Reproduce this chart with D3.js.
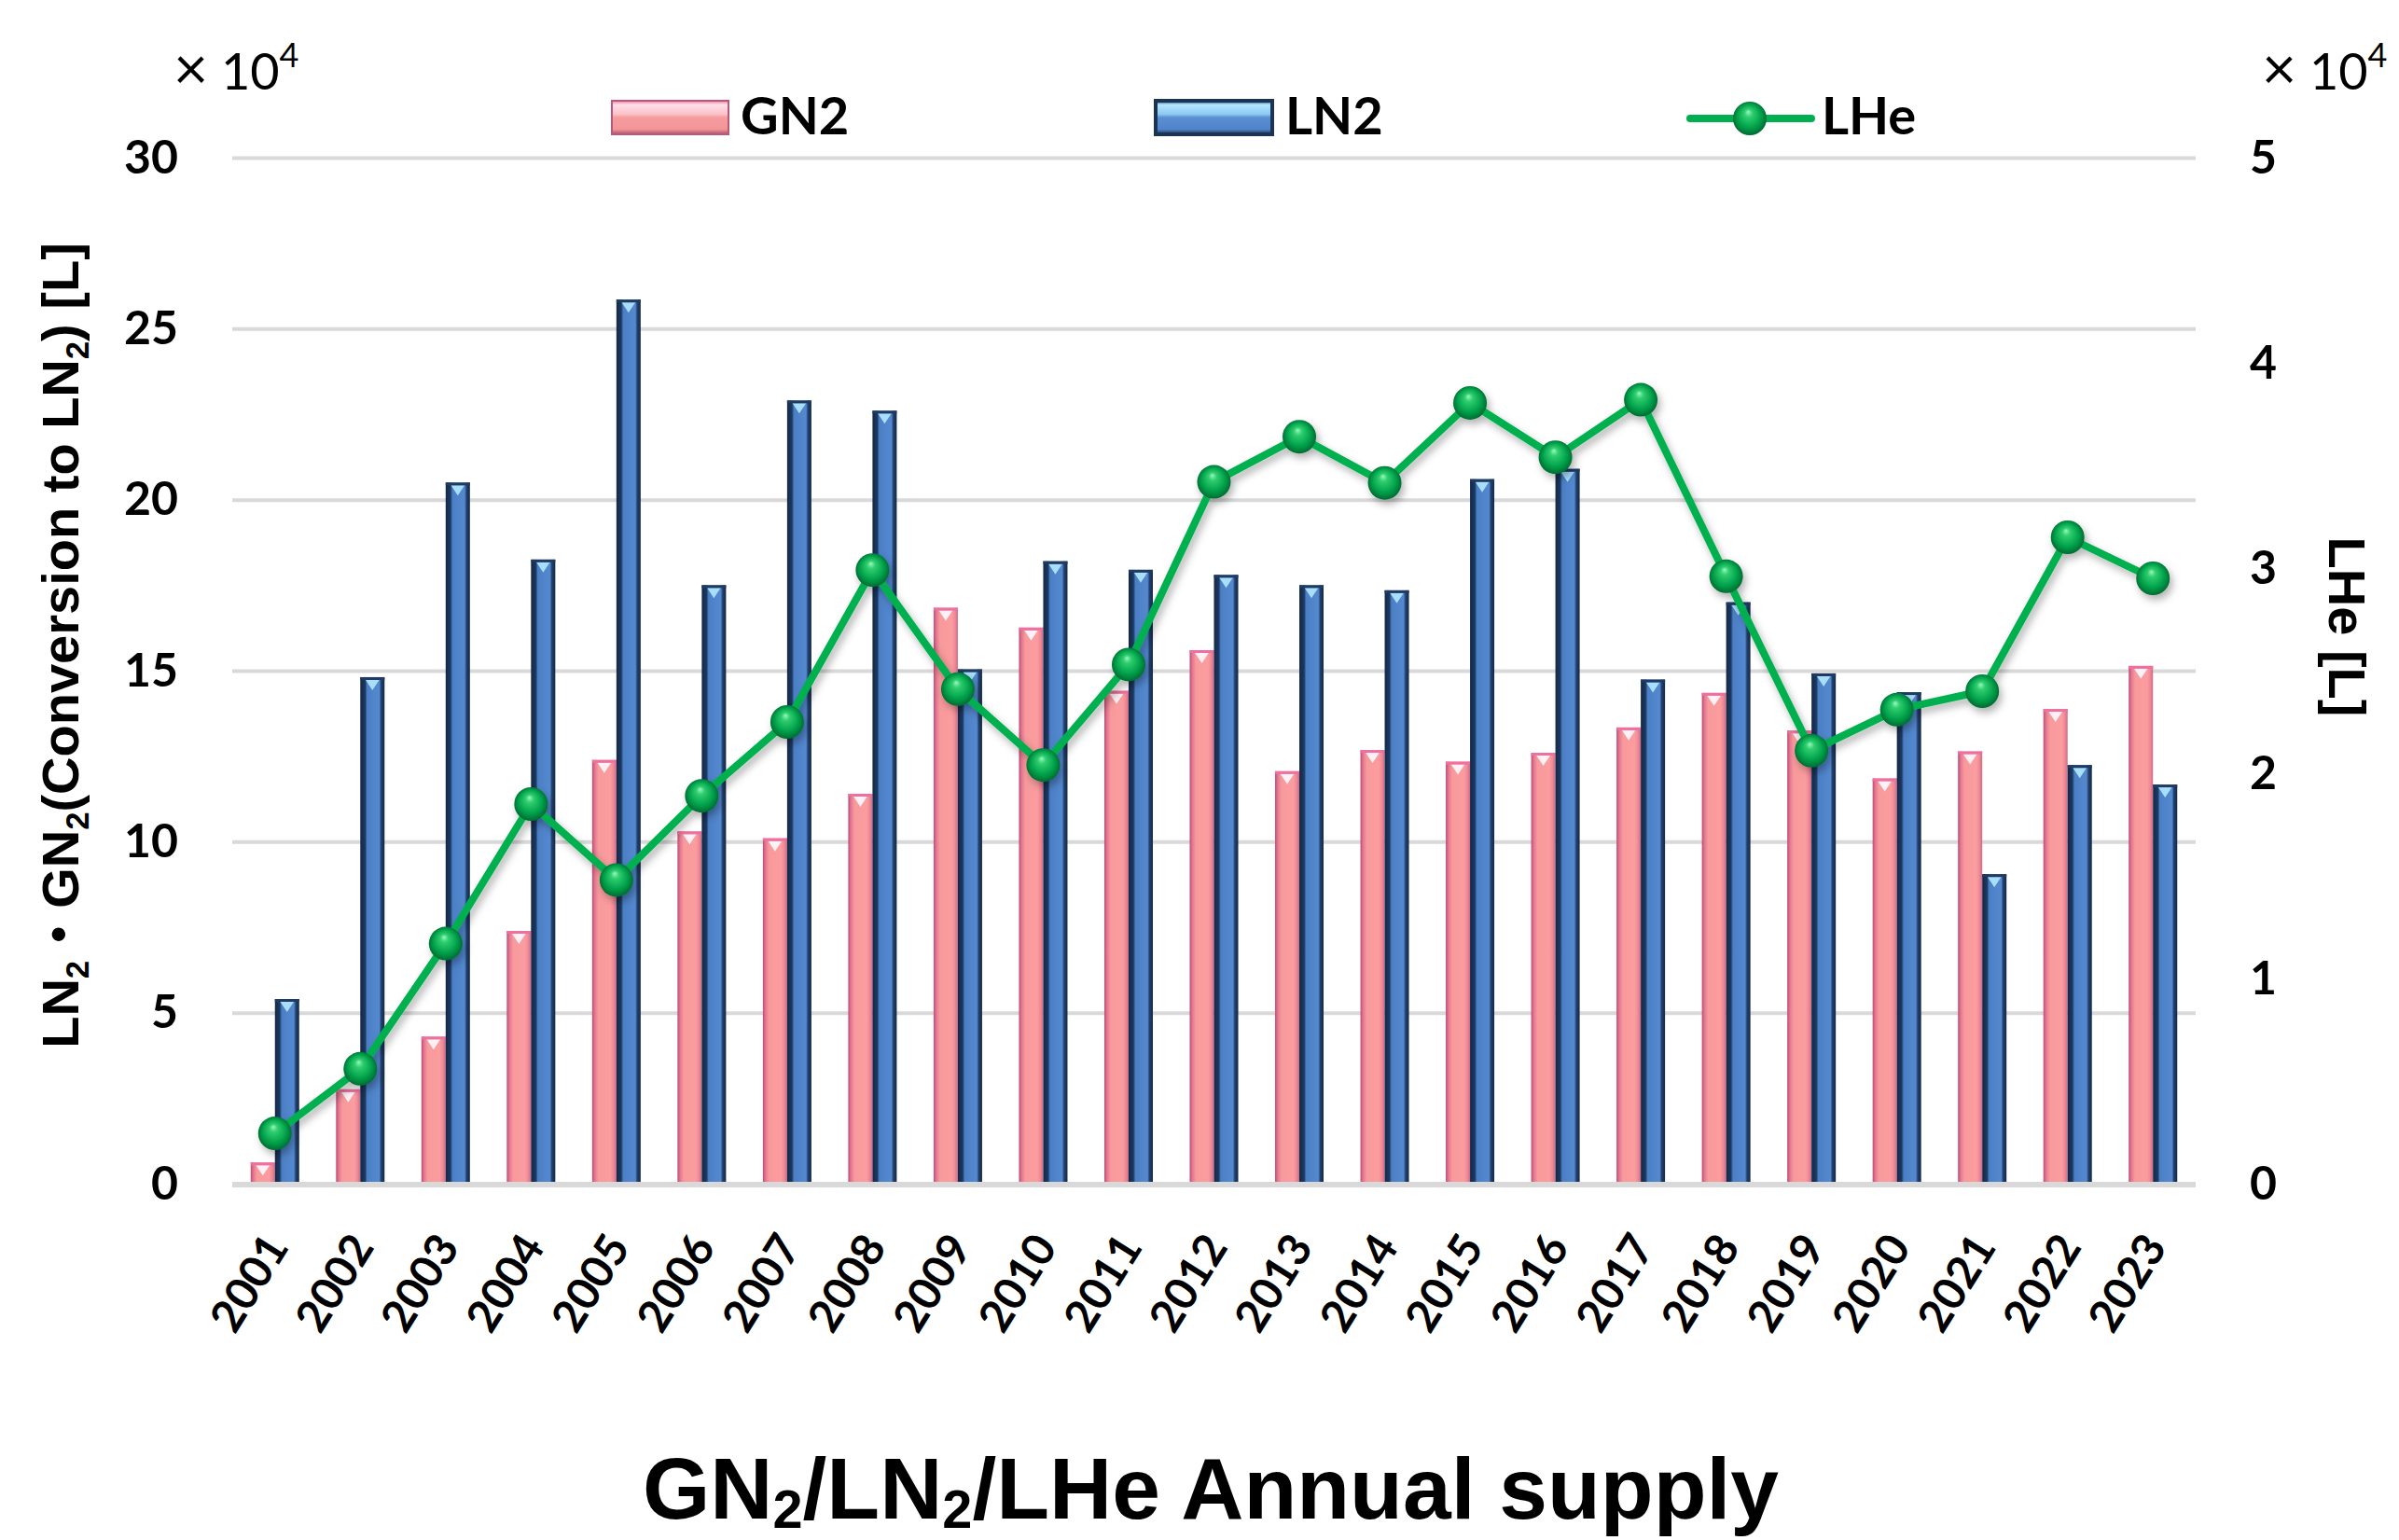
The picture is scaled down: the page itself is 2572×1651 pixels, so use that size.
<!DOCTYPE html>
<html>
<head>
<meta charset="utf-8">
<script src="https://cdn.jsdelivr.net/npm/d3@7"></script>
<style>
  body { margin: 0; background: #fff; }
</style>
</head>
<body>
<div id="chart"></div>
<script>

// values, in units of 10^4 L
var years = ["2001", "2002", "2003", "2004", "2005", "2006", "2007", "2008", "2009", "2010", "2011", "2012",
             "2013", "2014", "2015", "2016", "2017", "2018", "2019", "2020", "2021", "2022", "2023"];
var gn2 = [0.62, 2.76, 4.3, 7.39, 12.39, 10.3, 10.1, 11.4, 16.84, 16.26, 14.41, 15.6,
           12.06, 12.68, 12.34, 12.6, 13.34, 14.35, 13.25, 11.85, 12.64, 13.88, 15.14];
var ln2 = [5.4, 14.81, 20.5, 18.25, 25.85, 17.5, 22.9, 22.6, 15.04, 18.2, 17.95, 17.8,
           17.5, 17.35, 20.6, 20.9, 14.74, 17.0, 14.92, 14.37, 9.05, 12.24, 11.67];
var lhe = [0.245, 0.56, 1.17, 1.85, 1.48, 1.89, 2.25, 2.99, 2.41, 2.04, 2.53, 3.42,
           3.64, 3.415, 3.805, 3.54, 3.82, 2.96, 2.11, 2.31, 2.40, 3.15, 2.95];
var leftTicks = [0, 5, 10, 15, 20, 25, 30];
var rightTicks = [0, 1, 2, 3, 4, 5];
var seriesNames = ["GN2", "LN2", "LHe"];

var svgWidth = 2572;
var svgHeight = 1651;

var margin = {
  top: 169,
  bottom: 382,
  right: 218,
  left: 249
};

var width = svgWidth - margin.left - margin.right;
var height = svgHeight - margin.top - margin.bottom;

var svg = d3.select("#chart")
  .append("svg")
  .attr("width", svgWidth)
  .attr("height", svgHeight)
  .style("font-family", "Lato, 'Liberation Sans', sans-serif");

// gradients for the bevelled bars and the spheres
var defs = svg.append("defs");

function hGrad(id, stops, vertical) {
  var g = defs.append("linearGradient").attr("id", id)
    .attr("x1", 0).attr("y1", 0)
    .attr("x2", vertical ? 0 : 1).attr("y2", vertical ? 1 : 0);
  stops.forEach(function(s) {
    g.append("stop").attr("offset", s[0]).attr("stop-color", s[1]);
  });
}
hGrad("pinkBar", [[0, "#c24a75"], [0.12, "#e47a92"], [0.26, "#f8999c"], [0.75, "#fb9d9f"], [0.88, "#ee8a97"], [1, "#cf6a87"]]);
hGrad("blueBar", [[0, "#142847"], [0.2, "#1c3961"], [0.28, "#4b7fc5"], [0.78, "#5489d0"], [0.86, "#22416d"], [1, "#142847"]]);
hGrad("pinkLeg", [[0, "#f07aa6"], [0.12, "#fde0ea"], [0.4, "#fbc2c8"], [0.5, "#f59c9e"], [0.85, "#f39597"], [1, "#a8506c"]], true);
hGrad("blueLeg", [[0, "#2a4c78"], [0.12, "#b5e6ff"], [0.4, "#8ccaf2"], [0.5, "#5a8fd2"], [0.85, "#4f84c9"], [1, "#1b3355"]], true);

var rg = defs.append("radialGradient").attr("id", "ball")
  .attr("cx", "50%").attr("cy", "50%").attr("r", "55%")
  .attr("fx", "45%").attr("fy", "30%");
rg.append("stop").attr("offset", 0).attr("stop-color", "#9af7c0");
rg.append("stop").attr("offset", 0.22).attr("stop-color", "#2fce6e");
rg.append("stop").attr("offset", 0.65).attr("stop-color", "#00a04a");
rg.append("stop").attr("offset", 1).attr("stop-color", "#005f2c");

var shadow = defs.append("filter").attr("id", "shadow")
  .attr("x", "-10%").attr("y", "-10%").attr("width", "130%").attr("height", "130%");
shadow.append("feDropShadow")
  .attr("dx", 3).attr("dy", 5).attr("stdDeviation", 4)
  .attr("flood-color", "#000").attr("flood-opacity", 0.3);

var chartGroup = svg.append("g")
  .attr("transform", `translate(${margin.left}, ${margin.top})`);

// scales
var x = d3.scaleBand()
  .domain(years)
  .range([0, width]);

var x1 = d3.scaleBand()
  .domain(["GN2", "LN2"])
  .range([-26, 26]);

var yLeft = d3.scaleLinear()
  .domain([0, 30])
  .range([height, 0]);

var yRight = d3.scaleLinear()
  .domain([0, 5])
  .range([height, 0]);

function cx(i) { return x(years[i]) + x.bandwidth() / 2; }

// left axis with gridlines
var leftAxis = chartGroup.append("g")
  .attr("class", "y-axis")
  .call(d3.axisLeft(yLeft).tickValues(leftTicks).tickSize(-width).tickPadding(58));
leftAxis.select(".domain").remove();
leftAxis.selectAll("line").attr("stroke", "#d9d9d9").attr("stroke-width", 4);
leftAxis.selectAll("text")
  .attr("font-size", 50).attr("font-weight", "bold").attr("fill", "#000")
  .attr("font-family", "Lato, sans-serif");

// right axis
var rightAxis = chartGroup.append("g")
  .attr("class", "y-axis-right")
  .attr("transform", `translate(${width}, 0)`)
  .call(d3.axisRight(yRight).tickValues(rightTicks).tickFormat(d3.format("d")).tickSize(0).tickPadding(58));
rightAxis.select(".domain").remove();
rightAxis.selectAll("text")
  .attr("font-size", 50).attr("font-weight", "bold").attr("fill", "#000")
  .attr("font-family", "Lato, sans-serif");

// bars
var barData = [];
years.forEach(function(yr, i) {
  barData.push({ year: yr, key: "GN2", value: gn2[i], i: i });
  barData.push({ year: yr, key: "LN2", value: ln2[i], i: i });
});

var bw = x1.bandwidth();

var bars = chartGroup.append("g").attr("class", "bars")
  .selectAll("g")
  .data(barData)
  .enter().append("g");

bars.append("rect")
  .attr("x", function(d) { return cx(d.i) + x1(d.key); })
  .attr("y", function(d) { return yLeft(d.value); })
  .attr("width", bw)
  .attr("height", function(d) { return yLeft(0) - yLeft(d.value); })
  .attr("fill", function(d) { return d.key == "GN2" ? "url(#pinkBar)" : "url(#blueBar)"; });

// bevel top: little light triangle
bars.append("path")
  .attr("d", function(d) {
    var x0 = cx(d.i) + x1(d.key);
    var t = yLeft(d.value);
    return "M" + (x0 + bw * 0.22) + "," + (t + 3) + "L" + (x0 + bw * 0.78) + "," + (t + 3) +
      "L" + (x0 + bw / 2) + "," + (t + 14) + "Z";
  })
  .attr("fill", function(d) { return d.key == "GN2" ? "#fff1f5" : "#a9defb"; });

bars.append("rect")
  .attr("x", function(d) { return cx(d.i) + x1(d.key); })
  .attr("y", function(d) { return yLeft(d.value); })
  .attr("width", bw)
  .attr("height", 3)
  .attr("fill", function(d) { return d.key == "GN2" ? "#ee6fa0" : "#1f3b62"; });

// zero line over the bar feet
chartGroup.append("line")
  .attr("x1", 0).attr("x2", width)
  .attr("y1", yLeft(0) + 1).attr("y2", yLeft(0) + 1)
  .attr("stroke", "#d9d9d9").attr("stroke-width", 6);

// x axis labels
var xAxis = chartGroup.append("g")
  .attr("class", "x-axis")
  .attr("transform", `translate(0, ${height})`)
  .call(d3.axisBottom(x).tickSize(0));
xAxis.select(".domain").remove();
xAxis.selectAll("text")
  .attr("font-size", 48).attr("font-weight", "bold").attr("fill", "#000")
  .attr("font-family", "Lato, sans-serif")
  .attr("text-anchor", "end")
  .attr("x", 0).attr("y", 0).attr("dy", 0)
  .attr("transform", "translate(16, 68) rotate(-58)");

// LHe line
var lheLine = d3.line()
  .x(function(d, i) { return cx(i); })
  .y(function(d) { return yRight(d); });

var lheGroup = chartGroup.append("g").attr("filter", "url(#shadow)");
lheGroup.append("path")
  .datum(lhe)
  .attr("d", lheLine)
  .attr("fill", "none")
  .attr("stroke", "#00b050")
  .attr("stroke-width", 8)
  .attr("stroke-linejoin", "round");

lheGroup.selectAll("circle")
  .data(lhe)
  .enter().append("circle")
  .attr("cx", function(d, i) { return cx(i); })
  .attr("cy", function(d) { return yRight(d); })
  .attr("r", 18)
  .attr("fill", "url(#ball)");

// legend
var legend = svg.append("g").attr("class", "legend");
legend.append("rect")
  .attr("x", 656).attr("y", 108).attr("width", 125).attr("height", 36)
  .attr("fill", "url(#pinkLeg)").attr("stroke", "#b9587a").attr("stroke-width", 2);
legend.append("rect")
  .attr("x", 1239).attr("y", 108).attr("width", 125).attr("height", 36)
  .attr("fill", "url(#blueLeg)").attr("stroke", "#1b3355").attr("stroke-width", 4);
legend.append("line")
  .attr("x1", 1812).attr("x2", 1942).attr("y1", 127).attr("y2", 127)
  .attr("stroke", "#00b050").attr("stroke-width", 8).attr("stroke-linecap", "round");
legend.append("circle")
  .attr("cx", 1876).attr("cy", 127).attr("r", 18).attr("fill", "url(#ball)");

var legendX = [794, 1378, 1953];
legend.selectAll("text.leg")
  .data(seriesNames)
  .enter().append("text")
  .attr("class", "leg")
  .attr("x", function(d, i) { return legendX[i]; })
  .attr("y", 144)
  .attr("font-size", 56).attr("font-weight", "bold")
  .text(function(d) { return d; });

// ×10^4 unit labels
function unitLabel(xPos) {
  var t = svg.append("text")
    .attr("x", xPos).attr("y", 96)
    .attr("font-size", 54).attr("font-family", "Lato, sans-serif");
  t.append("tspan").attr("font-size", 64).text("×");
  t.append("tspan").text(" 10");
  t.append("tspan").attr("dy", -24).attr("font-size", 36).text("4");
}
unitLabel(186);
unitLabel(2425);

// text with subscripts
function subText(sel, parts, size, shift) {
  parts.forEach(function(p) {
    if (p.sub) {
      sel.append("tspan").attr("font-size", size * 0.62).attr("dy", shift).text(p.t);
    } else if (p.back) {
      sel.append("tspan").attr("dy", -shift).text(p.t);
    } else {
      sel.append("tspan").text(p.t);
    }
  });
}

// left axis title
var leftTitle = svg.append("text")
  .attr("transform", "translate(84, 692) rotate(-90)")
  .attr("text-anchor", "middle")
  .attr("font-size", 56).attr("font-weight", "bold")
  .attr("font-family", "'Liberation Sans', Arial, 'Noto Sans CJK JP', sans-serif");
subText(leftTitle, [
  { t: "LN" }, { t: "2", sub: true }, { t: "・GN", back: true }, { t: "2", sub: true },
  { t: "(Conversion to LN", back: true }, { t: "2", sub: true }, { t: ") [L]", back: true }
], 56, 11);

// right axis title
svg.append("text")
  .attr("transform", "translate(2497, 672) rotate(90)")
  .attr("text-anchor", "middle")
  .attr("font-size", 56).attr("font-weight", "bold")
  .attr("font-family", "'Liberation Sans', Arial, sans-serif")
  .text("LHe [L]");

// bottom title
var bottomTitle = svg.append("text")
  .attr("x", 1298).attr("y", 1628)
  .attr("text-anchor", "middle")
  .attr("font-size", 93).attr("font-weight", "bold")
  .attr("font-family", "'Liberation Sans', Arial, sans-serif");
subText(bottomTitle, [
  { t: "GN" }, { t: "2", sub: true }, { t: "/LN", back: true }, { t: "2", sub: true },
  { t: "/LHe Annual supply", back: true }
], 93, 10);

</script>
</body>
</html>
